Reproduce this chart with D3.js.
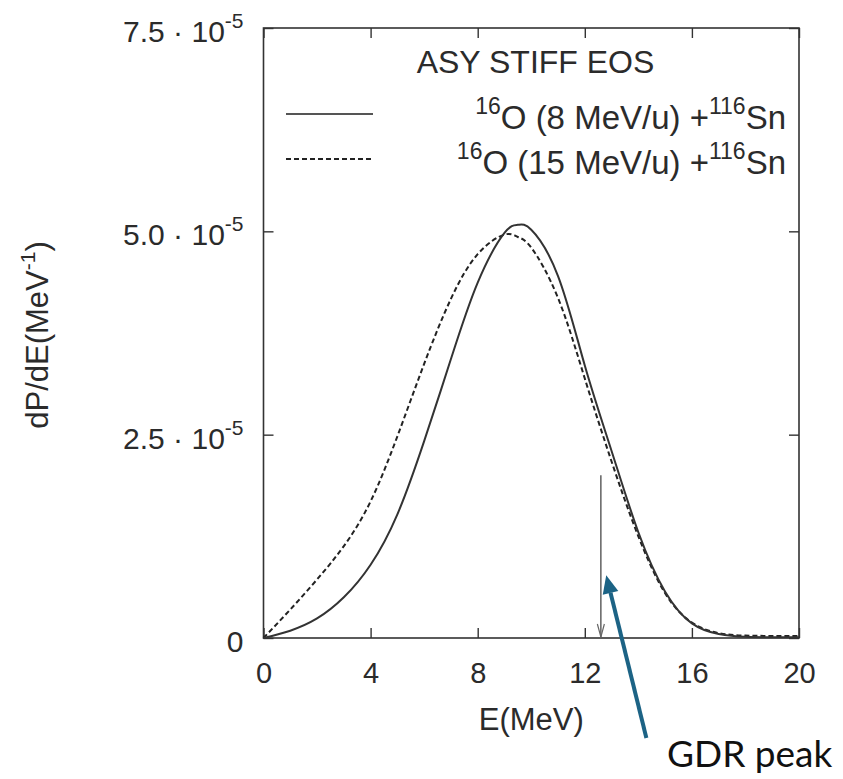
<!DOCTYPE html>
<html>
<head>
<meta charset="utf-8">
<script src="https://cdn.jsdelivr.net/npm/d3@7"></script>
<style>
  body { margin: 0; background: #fff; }
  svg { display: block; }
  .tick line { stroke: #333; stroke-width: 1.4; }
  .tick text { fill: #2b2b2b; font-family: "Liberation Sans", Arial, sans-serif; }
</style>
</head>
<body>
<svg id="chart" width="843" height="779"></svg>
<script>
// energy grid (MeV)
var energy = [0, 1, 2, 3, 4, 5, 6, 7, 8, 9, 9.5, 10, 11, 12, 13, 14, 15, 16, 17, 18, 19, 20];
// dP/dE in units of 1e-5 MeV^-1
var slow8 = [0, 0.09, 0.24, 0.50, 0.90, 1.52, 2.42, 3.43, 4.37, 4.98, 5.08, 5.02, 4.45, 3.35, 2.30, 1.30, 0.57, 0.18, 0.05, 0.015, 0.01, 0.01];
var fast15 = [0, 0.35, 0.72, 1.13, 1.68, 2.48, 3.37, 4.17, 4.72, 4.96, 4.93, 4.80, 4.18, 3.19, 2.17, 1.25, 0.55, 0.19, 0.06, 0.03, 0.025, 0.025];

var xTicks = [0, 4, 8, 12, 16, 20];
var yTicks = [0, 2.5e-5, 5.0e-5, 7.5e-5];

var legendTitle = "ASY STIFF EOS";
var legendRows = [
    { pre: "16", main: "O (8 MeV/u) +", sup: "116", post: "Sn", dash: null },
    { pre: "16", main: "O (15 MeV/u) +", sup: "116", post: "Sn", dash: "5,3" }
];

// GDR marker: energy and top of the vertical arrow
var gdrE = 12.6;
var gdrTop = 2.0e-5;
// annotation arrow, in data units (tail sits below the axis)
var noteTip = [12.8, 0.77e-5];
var noteTail = [14.3, -1.23e-5];

var MARGINS = { left: 263.5, right: 44, top: 28, bottom: 141 };
var WIDTH = 843, HEIGHT = 779;
var FONT = '"Liberation Sans", Arial, sans-serif';

var vis = d3.select("#chart");

var xRange = d3.scaleLinear().domain([0, 20]).range([MARGINS.left, WIDTH - MARGINS.right]);
var yRange = d3.scaleLinear().domain([0, 7.5e-5]).range([HEIGHT - MARGINS.bottom, MARGINS.top]);

var x0 = xRange(0), x1 = xRange(20), y0 = yRange(0), y1 = yRange(7.5e-5);

/**
 * inward ticks on all four sides
 */
var bottomAx = vis.append("g")
    .attr("transform", "translate(0," + y0 + ")")
    .call(d3.axisBottom(xRange).tickValues(xTicks).tickSize(-10).tickPadding(24).tickFormat(d3.format("d")));
bottomAx.selectAll("text").attr("font-size", 29).attr("dy", "0.71em");

vis.append("g")
    .attr("transform", "translate(0," + y1 + ")")
    .call(d3.axisTop(xRange).tickValues(xTicks).tickSize(-10).tickFormat(""));

var leftAx = vis.append("g")
    .attr("transform", "translate(" + x0 + ",0)")
    .call(d3.axisLeft(yRange).tickValues(yTicks).tickSize(-10).tickPadding(20));

leftAx.selectAll(".tick text").each(function (d) {
    var t = d3.select(this);
    t.text(null).attr("font-size", 30).attr("dy", "0.45em");
    if (d === 0) {
        t.text("0");
        return;
    }
    t.append("tspan").text((d / 1e-5).toFixed(1) + " \u00b7 10");
    t.append("tspan").attr("dy", -14).attr("font-size", 21).text("-5");
});

vis.append("g")
    .attr("transform", "translate(" + x1 + ",0)")
    .call(d3.axisRight(yRange).tickValues(yTicks).tickSize(-10).tickFormat(""));

vis.selectAll(".domain").remove();

vis.append("rect")
    .attr("x", x0).attr("y", y1)
    .attr("width", x1 - x0).attr("height", y0 - y1)
    .attr("fill", "none").attr("stroke", "#333").attr("stroke-width", 1.6);

/**
 * axis titles
 */
vis.append("text")
    .attr("x", (x0 + x1) / 2).attr("y", 730)
    .attr("text-anchor", "middle")
    .attr("font-family", FONT).attr("font-size", 31).attr("fill", "#2b2b2b")
    .text("E(MeV)");

var ylab = vis.append("text")
    .attr("transform", "translate(48,335) rotate(-90)")
    .attr("text-anchor", "middle")
    .attr("font-family", FONT).attr("font-size", 31).attr("fill", "#2b2b2b");
ylab.append("tspan").text("dP/dE(MeV");
ylab.append("tspan").attr("dy", -13).attr("font-size", 21).text("-1");
ylab.append("tspan").attr("dy", 13).text(")");

/**
 * curves
 */
var lineFunc = d3.line()
    .x(function (d) { return xRange(d[0]); })
    .y(function (d) { return yRange(d[1] * 1e-5); })
    .curve(d3.curveNatural);

vis.append("path")
    .datum(d3.zip(energy, fast15))
    .attr("d", lineFunc)
    .attr("fill", "none").attr("stroke", "#222").attr("stroke-width", 2)
    .attr("stroke-dasharray", "5,3");

vis.append("path")
    .datum(d3.zip(energy, slow8))
    .attr("d", lineFunc)
    .attr("fill", "none").attr("stroke", "#333").attr("stroke-width", 2);

/**
 * legend
 */
vis.append("text")
    .attr("x", 535.5).attr("y", 73)
    .attr("text-anchor", "middle")
    .attr("font-family", FONT).attr("font-size", 32).attr("fill", "#2b2b2b")
    .text(legendTitle);

legendRows.forEach(function (r, i) {
    var base = 129 + i * 45;
    vis.append("line")
        .attr("x1", 286).attr("x2", 373)
        .attr("y1", base - 15).attr("y2", base - 15)
        .attr("stroke", i === 0 ? "#555" : "#222").attr("stroke-width", 2)
        .attr("stroke-dasharray", r.dash);
    var t = vis.append("text")
        .attr("x", 786).attr("y", base)
        .attr("text-anchor", "end")
        .attr("font-family", FONT).attr("font-size", 33).attr("fill", "#2b2b2b");
    t.append("tspan").attr("dy", -15).attr("font-size", 23).text(r.pre);
    t.append("tspan").attr("dy", 15).text(r.main);
    t.append("tspan").attr("dy", -15).attr("font-size", 23).text(r.sup);
    t.append("tspan").attr("dy", 15).text(r.post);
});

/**
 * GDR peak marker: thin vertical arrow with an open head
 */
var gx = xRange(gdrE);
vis.append("line")
    .attr("x1", gx).attr("x2", gx)
    .attr("y1", yRange(gdrTop)).attr("y2", y0)
    .attr("stroke", "#555").attr("stroke-width", 1.4);
vis.append("path")
    .attr("d", "M" + (gx - 3.5) + "," + (y0 - 14) + "L" + gx + "," + (y0 - 1) + "L" + (gx + 3.5) + "," + (y0 - 14))
    .attr("fill", "none").attr("stroke", "#666").attr("stroke-width", 1.2);

/**
 * annotation arrow and label
 */
var blue = "#1c6385";
var tip = [xRange(noteTip[0]), yRange(noteTip[1])];
var tail = [xRange(noteTail[0]), yRange(noteTail[1])];
var ang = Math.atan2(tip[1] - tail[1], tip[0] - tail[0]);
var headLen = 18, headHalf = 8;
var bx = tip[0] - headLen * Math.cos(ang), by = tip[1] - headLen * Math.sin(ang);

vis.append("line")
    .attr("x1", tail[0]).attr("y1", tail[1])
    .attr("x2", bx).attr("y2", by)
    .attr("stroke", blue).attr("stroke-width", 4);
vis.append("path")
    .attr("d", "M" + tip[0] + "," + tip[1] +
        "L" + (bx + headHalf * Math.sin(ang)) + "," + (by - headHalf * Math.cos(ang)) +
        "L" + (bx - headHalf * Math.sin(ang)) + "," + (by + headHalf * Math.cos(ang)) + "Z")
    .attr("fill", blue);

vis.append("text")
    .attr("x", 667).attr("y", 767)
    .attr("font-family", "Lato, 'Open Sans', sans-serif").attr("font-size", 37).attr("fill", "#111")
    .text("GDR peak");
</script>
</body>
</html>
